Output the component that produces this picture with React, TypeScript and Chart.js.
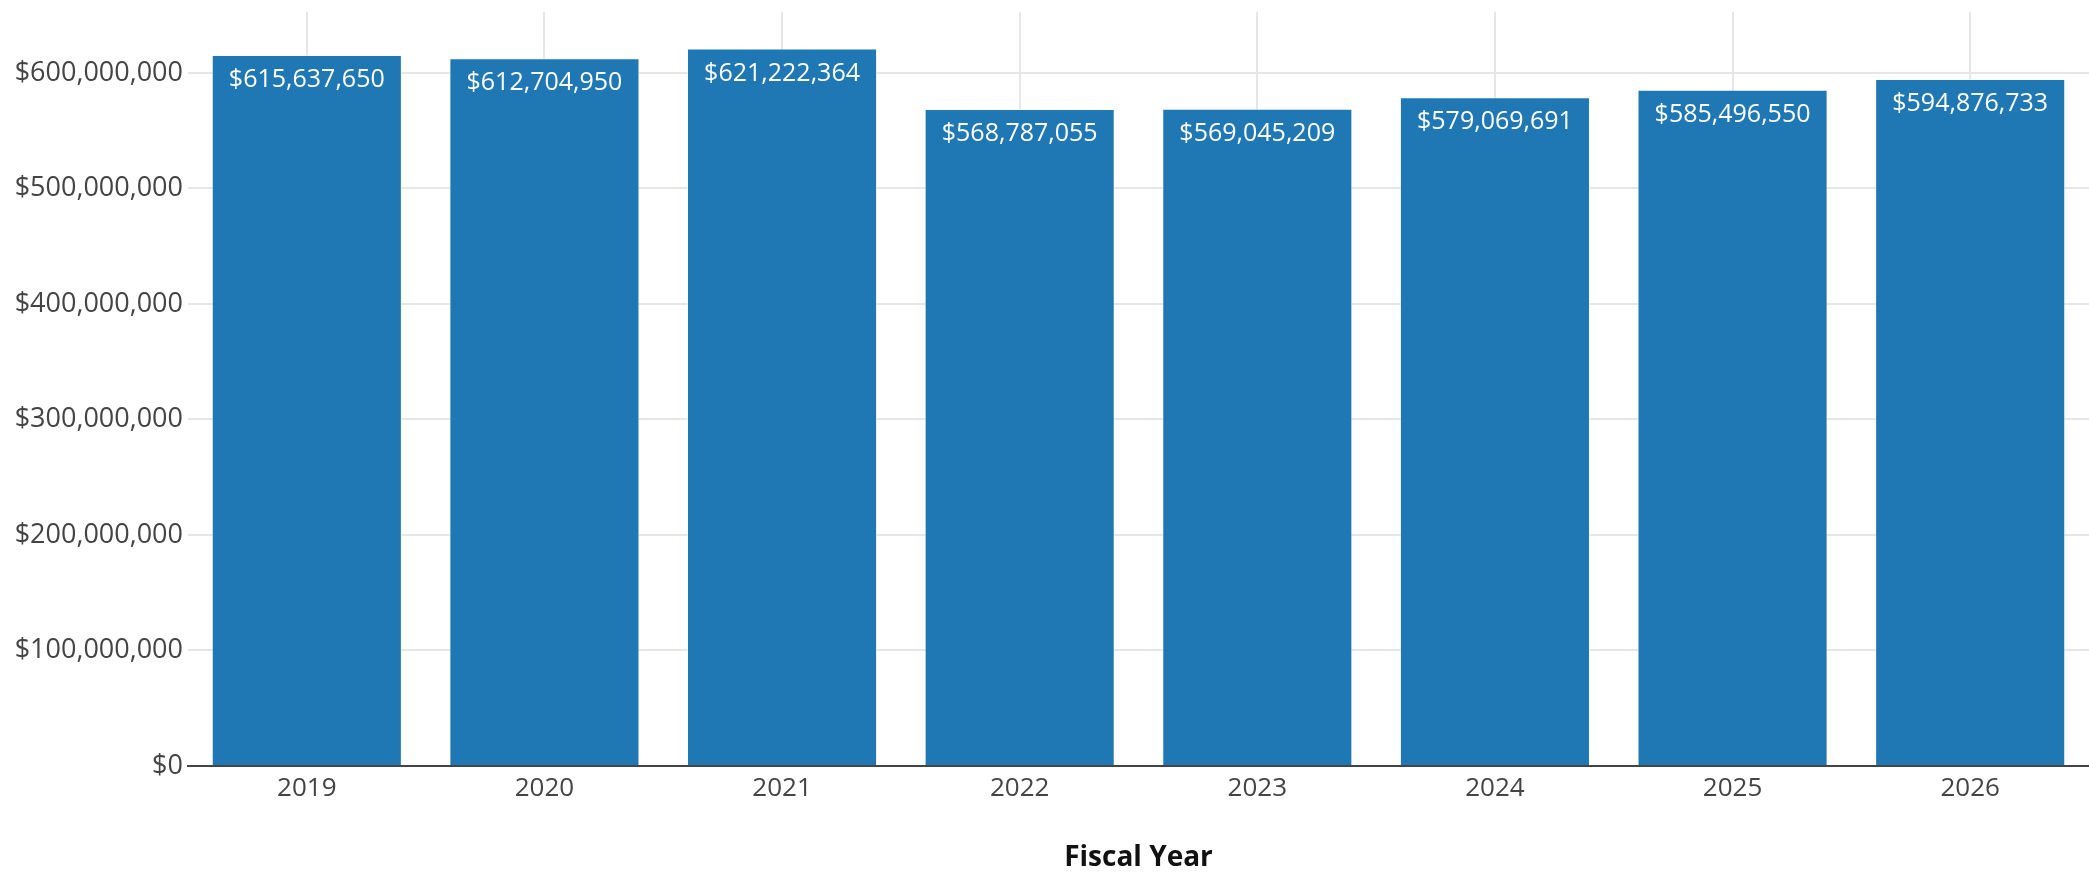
import React, { useEffect, useRef } from "react";
import { Chart, registerables } from "chart.js";

Chart.register(...registerables);

const categories = ["2019", "2020", "2021", "2022", "2023", "2024", "2025", "2026"];
const spending = [615637650, 612704950, 621222364, 568787055, 569045209, 579069691, 585496550, 594876733];
const yTickValues = [0, 100000000, 200000000, 300000000, 400000000, 500000000, 600000000];
const yMax = 653000000;
const xTitle = "Fiscal Year";

const fmt = (v: number) => "$" + Math.round(v).toLocaleString("en-US");

const barLabelPlugin = {
  id: "barLabels",
  afterDatasetsDraw(chart: any) {
    const ctx = chart.ctx;
    const meta = chart.getDatasetMeta(0);
    ctx.save();
    ctx.fillStyle = "#ffffff";
    ctx.font = "25px 'Open Sans'";
    ctx.textAlign = "center";
    ctx.textBaseline = "middle";
    meta.data.forEach((el: any, i: number) => {
      ctx.fillText(fmt(spending[i]), el.x, el.y + 25);
    });
    ctx.restore();
  },
};

export default function App() {
  const ref = useRef<HTMLCanvasElement | null>(null);
  useEffect(() => {
    document.body.style.margin = "0";
    const chart = new Chart(ref.current as HTMLCanvasElement, {
      type: "bar",
      data: {
        labels: categories,
        datasets: [
          {
            data: spending,
            backgroundColor: "#1f77b4",
            borderColor: "rgba(255,255,255,0.55)",
            borderWidth: 1,
            categoryPercentage: 1,
            barPercentage: 0.8,
          },
        ],
      },
      options: {
        animation: false,
        responsive: false,
        maintainAspectRatio: false,
        devicePixelRatio: 1,
        layout: { padding: { top: 9, left: 0, right: 0, bottom: 0 } },
        plugins: {
          legend: { display: false },
          tooltip: { enabled: false },
        },
        scales: {
          x: {
            grid: {
              offset: false,
              color: "#e6e6e6",
              lineWidth: 2,
              drawTicks: false,
              tickLength: 0,
            },
            border: { display: true, color: "#444444", width: 2 },
            ticks: {
              color: "#444444",
              font: { family: "'Open Sans'", size: 26 },
              padding: 7,
              maxRotation: 0,
            },
            title: {
              display: true,
              text: xTitle,
              color: "#111111",
              font: { family: "'Open Sans'", size: 28, weight: "bold" },
              padding: { top: 0, bottom: 0 },
            },
            afterFit(scale: any) {
              scale.height = 109;
            },
          },
          y: {
            min: 0,
            max: yMax,
            grid: {
              color: "#e6e6e6",
              lineWidth: 2,
              drawTicks: false,
              tickLength: 0,
            },
            border: { display: false },
            ticks: {
              color: "#444444",
              font: { family: "'Open Sans'", size: 27, lineHeight: 0.5 },
              padding: 5,
              callback: (v: any) => fmt(Number(v)),
            },
            afterBuildTicks(scale: any) {
              scale.ticks = yTickValues.map((v) => ({ value: v }));
            },
            afterFit(scale: any) {
              scale.width = 188;
            },
          },
        },
      },
      plugins: [barLabelPlugin],
    });
    return () => chart.destroy();
  }, []);
  return (
    <div style={{ width: 2089, height: 875, background: "#fff" }}>
      <canvas ref={ref} width={2089} height={875} style={{ display: "block" }} />
    </div>
  );
}
